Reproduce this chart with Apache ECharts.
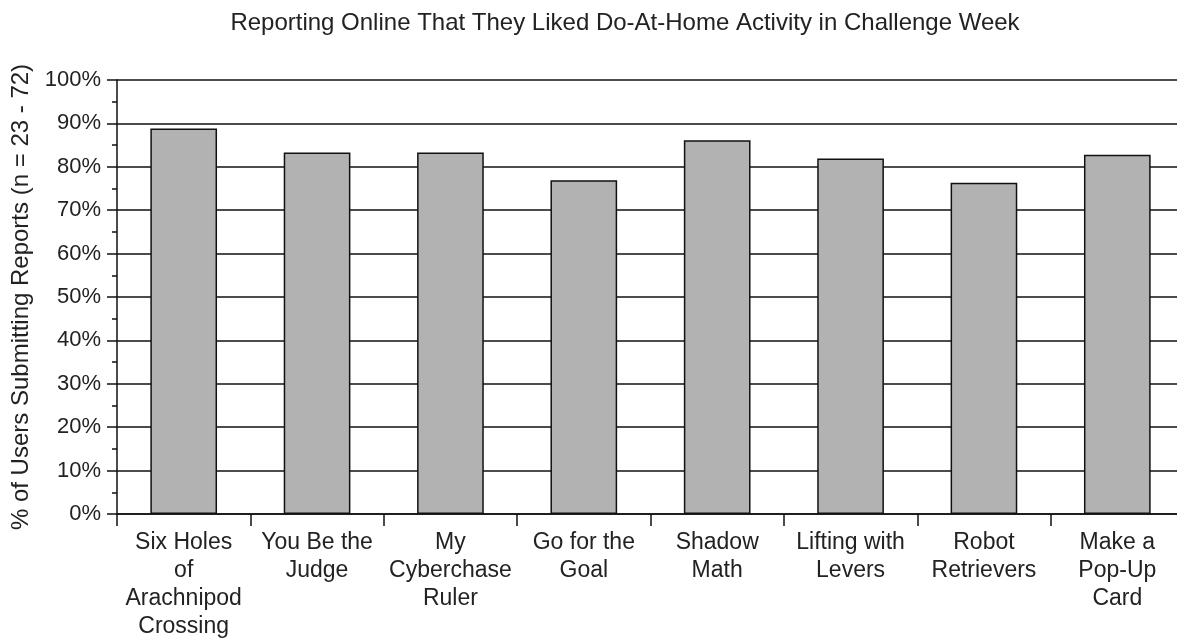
<!DOCTYPE html>
<html>
<head>
<meta charset="utf-8">
<script src="https://cdn.jsdelivr.net/npm/echarts@6/dist/echarts.min.js"></script>
<style>
html,body{margin:0;padding:0;background:#fff;}
#chart{width:1177px;height:642px;}
</style>
</head>
<body>
<div id="chart"></div>
<script>
const titleText = "Reporting Online That They Liked Do-At-Home Activity in Challenge Week";
const yAxisName = "% of Users Submitting Reports (n = 23 - 72)";
const categories = [
  "Six Holes\nof\nArachnipod\nCrossing",
  "You Be the\nJudge",
  "My\nCyberchase\nRuler",
  "Go for the\nGoal",
  "Shadow\nMath",
  "Lifting with\nLevers",
  "Robot\nRetrievers",
  "Make a\nPop-Up\nCard"
];
const values = [88.8, 83.3, 83.3, 76.9, 86.1, 81.9, 76.3, 82.8];

const FONT = "Liberation Sans, Arial, sans-serif";
const chart = echarts.init(document.getElementById('chart'), null, {renderer: 'canvas'});
chart.setOption({
  animation: false,
  backgroundColor: '#fff',
  title: {
    text: titleText,
    left: 620, top: 6, textAlign: 'center',
    textStyle: {fontFamily: FONT, fontSize: 24, fontWeight: 'normal', color: '#222'}
  },
  grid: {left: 117, top: 80, width: 1067, height: 434, containLabel: false, outerBoundsMode: 'none'},
  xAxis: {
    type: 'category',
    data: categories,
    boundaryGap: true,
    axisLine: {lineStyle: {color: '#111', width: 1.5}},
    axisTick: {show: true, alignWithLabel: false, length: 12, lineStyle: {color: '#111', width: 1.5}},
    axisLabel: {interval: 0, fontFamily: FONT, fontSize: 23, color: '#222', lineHeight: 28, margin: 15, align: 'center'},
    splitLine: {show: false}
  },
  yAxis: {
    type: 'value',
    min: 0, max: 100, interval: 10,
    name: yAxisName,
    nameLocation: 'middle',
    nameGap: 83,
    nameTextStyle: {fontFamily: FONT, fontSize: 24, color: '#222'},
    axisLine: {show: true, lineStyle: {color: '#111', width: 1.5}},
    axisTick: {show: true, length: 10, lineStyle: {color: '#111', width: 1.5}},
    minorTick: {show: true, splitNumber: 2, length: 5, lineStyle: {color: '#111', width: 1.5}},
    axisLabel: {formatter: '{value}%', fontFamily: FONT, fontSize: 22, color: '#222', margin: 16},
    splitLine: {show: true, lineStyle: {color: '#111', width: 1.5}}
  },
  series: [{
    type: 'bar',
    data: values,
    barCategoryGap: '50%',
    itemStyle: {color: '#b2b2b2', borderColor: '#111', borderWidth: 1.5}
  }]
});
</script>
</body>
</html>
